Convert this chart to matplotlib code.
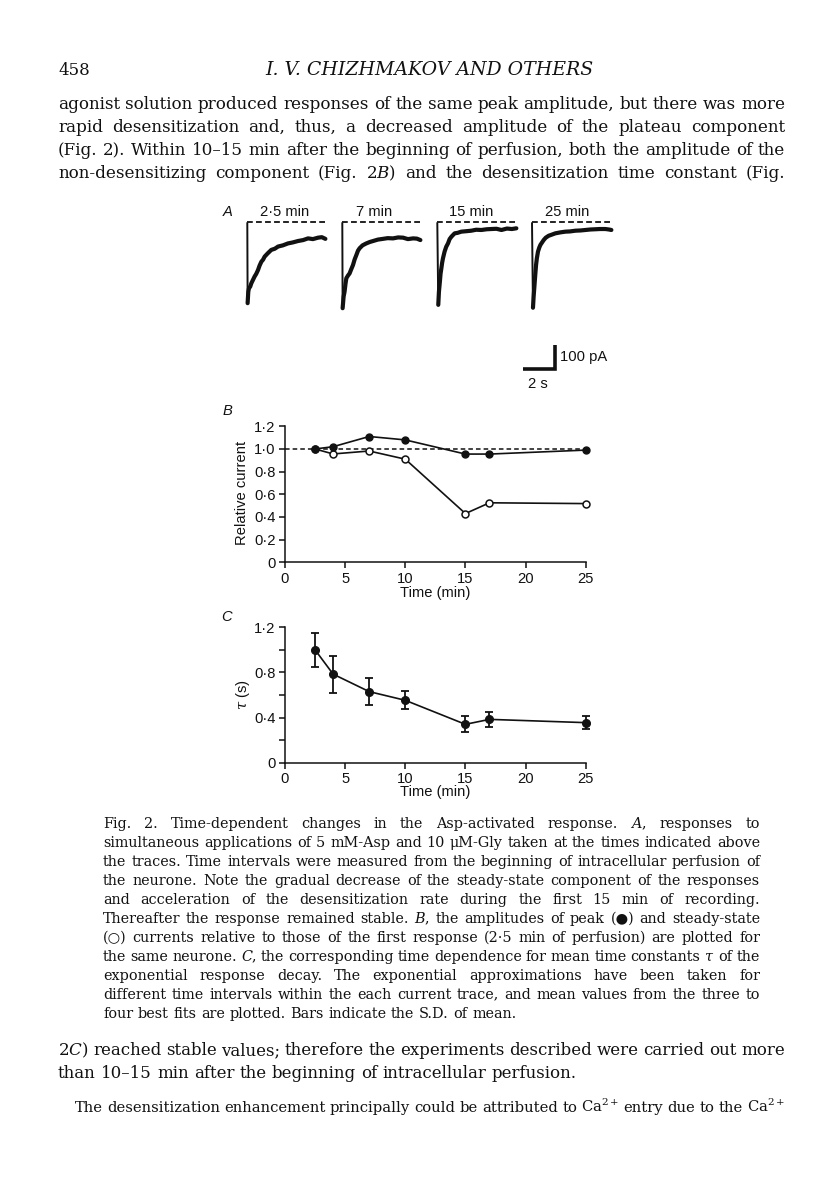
import matplotlib
matplotlib.use('Agg')
import matplotlib.pyplot as plt

# ------------------------------------------------------------------ data
time_min = [2.5, 4, 7, 10, 15, 17, 25]
peak_rel = [1.00, 1.02, 1.11, 1.08, 0.955, 0.955, 0.99]
steady_rel = [1.00, 0.956, 0.982, 0.91, 0.43, 0.525, 0.518]
tau_s = [1.00, 0.785, 0.63, 0.553, 0.34, 0.384, 0.355]
tau_sd = [0.15, 0.165, 0.12, 0.08, 0.07, 0.065, 0.055]

time_ticks = [0, 5, 10, 15, 20, 25]
time_ticklabels = ['0', '5', '10', '15', '20', '25']
rel_ticks = [0, 0.2, 0.4, 0.6, 0.8, 1.0, 1.2]
rel_ticklabels = ['0', '0·2', '0·4', '0·6', '0·8', '1·0', '1·2']
tau_ticks = [0, 0.4, 0.8, 1.2]
tau_ticklabels = ['0', '0·4', '0·8', '1·2']
tau_minor = [0.2, 0.6, 1.0]

trace_labels = ['2·5 min', '7 min', '15 min', '25 min']
# current traces (time in s from onset, current in pA)
trace1_t = [0, 0.02, 0.06, 0.10, 0.18, 0.25, 0.35, 0.45, 0.55, 0.66, 0.76, 0.87, 0.97, 1.07, 1.25,
            1.48, 1.70, 1.90, 2.20, 2.51, 2.80, 3.13, 3.45, 3.75, 4.05, 4.37, 4.60, 4.82]
trace1_i = [0, -337, -290, -275, -268, -254, -240, -226, -215, -199, -180, -164, -156, -143, -130,
            -115, -110, -101, -96, -88, -84, -78, -74, -67, -70, -64, -62, -69]
trace2_t = [0, 0.02, 0.08, 0.14, 0.20, 0.25, 0.35, 0.45, 0.55, 0.66, 0.76, 0.87, 0.97, 1.07, 1.25,
            1.48, 1.70, 1.90, 2.20, 2.51, 2.80, 3.13, 3.45, 3.75, 4.05, 4.37, 4.60, 4.82]
trace2_i = [0, -358, -310, -289, -255, -233, -222, -213, -196, -178, -155, -136, -118, -108, -96,
            -88, -82, -78, -72, -69, -66, -67, -63, -64, -70, -67, -68, -74]
trace3_t = [0, 0.06, 0.10, 0.16, 0.20, 0.25, 0.30, 0.35, 0.45, 0.55, 0.66, 0.76, 0.87, 1.07, 1.25,
            1.48, 1.80, 2.10, 2.40, 2.72, 3.05, 3.34, 3.65, 3.96, 4.30, 4.60, 4.88]
trace3_i = [0, -344, -290, -247, -215, -192, -168, -150, -122, -102, -88, -70, -60, -46, -44,
            -39, -37, -35, -31, -32, -29, -28, -27, -32, -26, -28, -25]
trace4_t = [0, 0.06, 0.10, 0.14, 0.20, 0.25, 0.30, 0.37, 0.45, 0.52, 0.62, 0.72, 0.85, 1.03, 1.20,
            1.44, 1.75, 2.06, 2.35, 2.68, 3.00, 3.30, 3.60, 3.91, 4.20, 4.53, 4.75, 4.90]
trace4_i = [0, -356, -310, -275, -220, -178, -150, -122, -105, -94, -84, -74, -64, -56, -52,
            -46, -42, -39, -38, -35, -34, -32, -30, -29, -28, -28, -30, -32]
baseline_len_s = 4.9
scale_time_s = 2
scale_current_pa = 100

header_page = '458'
header_title = 'I. V. CHIZHMAKOV AND OTHERS'
body1 = [
    'agonist solution produced responses of the same peak amplitude, but there was more',
    'rapid desensitization and, thus, a decreased amplitude of the plateau component',
    '(Fig. 2). Within 10–15 min after the beginning of perfusion, both the amplitude of the',
    r'non-desensitizing component (Fig. 2$\mathit{B}$) and the desensitization time constant (Fig.',
]
caption = [
    r'Fig. 2. Time-dependent changes in the Asp-activated response. $\mathit{A}$, responses to',
    'simultaneous applications of 5 mM-Asp and 10 μM-Gly taken at the times indicated above',
    'the traces. Time intervals were measured from the beginning of intracellular perfusion of',
    'the neurone. Note the gradual decrease of the steady-state component of the responses',
    'and acceleration of the desensitization rate during the first 15 min of recording.',
    r'Thereafter the response remained stable. $\mathit{B}$, the amplitudes of peak (●) and steady-state',
    '(○) currents relative to those of the first response (2·5 min of perfusion) are plotted for',
    r'the same neurone. $\mathit{C}$, the corresponding time dependence for mean time constants $\tau$ of the',
    'exponential response decay. The exponential approximations have been taken for',
    'different time intervals within the each current trace, and mean values from the three to',
    'four best fits are plotted. Bars indicate the S.D. of mean.',
]
body2 = [
    r'2$\mathit{C}$) reached stable values; therefore the experiments described were carried out more',
    'than 10–15 min after the beginning of intracellular perfusion.',
]
body3 = [
    r'The desensitization enhancement principally could be attributed to Ca$^{2+}$ entry due to the Ca$^{2+}$',
]

# ------------------------------------------------------------------ figure
W, H = 816, 1203
plt.rcParams['mathtext.fontset'] = 'dejavuserif'
fig = plt.figure(figsize=(W / 100, H / 100), dpi=100)
fig.patch.set_facecolor('white')

bg = fig.add_axes([0, 0, 1, 1], zorder=-1)
bg.set_xlim(0, W)
bg.set_ylim(H, 0)
bg.axis('off')
renderer = fig.canvas.get_renderer()

SERIF = ['DejaVu Serif', 'DejaVu Sans']
SANS = ['Liberation Sans', 'DejaVu Sans']
INK = '#111111'
SANS_SIZE = 10.6


def width_of(s, size, family=SERIF, style='normal'):
    t = bg.text(0, 0, s, fontsize=size, family=family, style=style)
    w = t.get_window_extent(renderer).width
    t.remove()
    return w


def paragraph(lines, x0, x1, y0, dy, size, justify, family=SERIF):
    target = x1 - x0
    for _ in range(4):
        sp = width_of('a a', size, family) - width_of('aa', size, family)
        worst = 1.0
        for ln, j in zip(lines, justify):
            if not j:
                continue
            words = ln.split(' ')
            nat = sum(width_of(w, size, family) for w in words) + sp * (len(words) - 1) * 0.85
            worst = min(worst, target / nat)
        if worst >= 1.0:
            break
        size *= worst * 0.998
    sp = width_of('a a', size, family) - width_of('aa', size, family)
    for k, (ln, j) in enumerate(zip(lines, justify)):
        words = ln.split(' ')
        ws = [width_of(w, size, family) for w in words]
        gap = (target - sum(ws)) / (len(words) - 1) if (j and len(words) > 1) else sp
        x = x0
        y = y0 + k * dy
        for w, wd in zip(words, ws):
            bg.text(x, y, w, fontsize=size, family=family, va='baseline', ha='left', color=INK)
            x += wd + gap


# header
bg.text(58, 75, header_page, fontsize=12, family=SERIF, va='baseline', ha='left', color=INK)
hs = 12 * 327 / width_of(header_title, 12, style='italic')
bg.text(265, 75, header_title, fontsize=hs, family=SERIF, style='italic',
        va='baseline', ha='left', color=INK)

paragraph(body1, 58, 785, 109, 23, 13.5, [True, True, True, True])
paragraph(caption, 103, 760, 828, 19, 11.0, [True] * 10 + [False])
paragraph(body2, 58, 785, 1055, 23, 13.5, [True, False])
paragraph(body3, 75, 785, 1112, 20, 11.5, [True])

# ------------------------------------------------------------------ panel A
PX_S = 16.2      # pixels per second
PX_PA = 0.24     # pixels per pA
trace_x0 = [247.3, 342.3, 437.3, 532.0]
trace_y0 = 222.3
traces = [(trace1_t, trace1_i), (trace2_t, trace2_i), (trace3_t, trace3_i), (trace4_t, trace4_i)]
label_cx = [285, 374, 471, 567]

XL = (-0.3, 5.3)
YL = (-400, 30)
for (tt, ii), x0, lab, cx in zip(traces, trace_x0, trace_labels, label_cx):
    left = x0 + XL[0] * PX_S
    right = x0 + XL[1] * PX_S
    top = trace_y0 - YL[1] * PX_PA
    bottom = trace_y0 - YL[0] * PX_PA
    ax = fig.add_axes([left / W, 1 - bottom / H, (right - left) / W, (bottom - top) / H])
    ax.set_xlim(*XL)
    ax.set_ylim(*YL)
    ax.axis('off')
    ax.plot([0, baseline_len_s], [0, 0], color=INK, lw=1.3, ls=(0, (3.2, 1.8)))
    ax.plot(tt[:2], ii[:2], color=INK, lw=1.4, solid_capstyle='butt')
    ax.plot(tt[1:], ii[1:], color=INK, lw=3.0, solid_joinstyle='round', solid_capstyle='round')
    bg.text(cx, 212, lab, fontsize=SANS_SIZE, family=SANS, ha='center', va='center', color=INK)

bg.text(228, 212, 'A', fontsize=SANS_SIZE, family=SANS, style='italic', ha='center', va='center', color=INK)

# scale bar
cx_px, cy_px = 555.0, 369.3
sl, sr = cx_px - 2.3 * PX_S, cx_px + 0.3 * PX_S
st, sb = cy_px - 115 * PX_PA, cy_px + 15 * PX_PA
axs = fig.add_axes([sl / W, 1 - sb / H, (sr - sl) / W, (sb - st) / H])
axs.set_xlim(-2.3, 0.3)
axs.set_ylim(-15, 115)
axs.axis('off')
axs.plot([-scale_time_s, 0, 0], [0, 0, scale_current_pa], color=INK, lw=2.6,
         solid_joinstyle='miter', solid_capstyle='butt')
bg.text(560, 357, f'{scale_current_pa} pA', fontsize=SANS_SIZE, family=SANS, ha='left', va='center', color=INK)
bg.text(538, 384, f'{scale_time_s} s', fontsize=SANS_SIZE, family=SANS, ha='center', va='center', color=INK)


# ------------------------------------------------------------------ panels B, C
def px_axes(left, top, right, bottom):
    return fig.add_axes([left / W, 1 - bottom / H, (right - left) / W, (bottom - top) / H])


def style_axes(ax):
    for s in ['top', 'right']:
        ax.spines[s].set_visible(False)
    for s in ['left', 'bottom']:
        ax.spines[s].set_linewidth(1.1)
        ax.spines[s].set_color(INK)
    ax.tick_params(which='both', direction='out', length=4.2, width=1.1, colors=INK,
                   labelsize=SANS_SIZE, pad=2.5)
    for lb in ax.get_xticklabels() + ax.get_yticklabels():
        lb.set_family(SANS)
    ax.patch.set_alpha(0)


axB = px_axes(285, 426.3, 585.7, 562.3)
axB.set_xlim(0, 25)
axB.set_ylim(0, 1.2)
axB.axhline(1.0, color=INK, lw=1.1, ls=(0, (3, 2)), zorder=1)
axB.plot(time_min, steady_rel, '-o', color=INK, mfc='white', mec=INK, ms=5, mew=1.1, lw=1.2,
         clip_on=False, zorder=3)
axB.plot(time_min, peak_rel, '-o', color=INK, ms=5, lw=1.2, clip_on=False, zorder=4)
axB.set_xticks(time_ticks)
axB.set_xticklabels(time_ticklabels)
axB.set_yticks(rel_ticks)
axB.set_yticklabels(rel_ticklabels)
style_axes(axB)
bg.text(242.5, 493, 'Relative current', rotation=90, fontsize=SANS_SIZE, family=SANS,
        ha='center', va='center', color=INK)
bg.text(435, 593, 'Time (min)', fontsize=SANS_SIZE, family=SANS, ha='center', va='center', color=INK)
bg.text(227, 411, 'B', fontsize=SANS_SIZE, family=SANS, style='italic', ha='center', va='center', color=INK)

axC = px_axes(285, 627.3, 585.7, 762.7)
axC.set_xlim(0, 25)
axC.set_ylim(0, 1.2)
axC.errorbar(time_min, tau_s, yerr=tau_sd, fmt='-o', color=INK, ms=5.5, lw=1.2,
             elinewidth=1.3, capsize=3, capthick=1.3, clip_on=False, zorder=3)
axC.set_xticks(time_ticks)
axC.set_xticklabels(time_ticklabels)
axC.set_yticks(tau_ticks)
axC.set_yticklabels(tau_ticklabels)
axC.set_yticks(tau_minor, minor=True)
style_axes(axC)
bg.text(243, 695, r'$\tau$ (s)', rotation=90, fontsize=SANS_SIZE, family=SANS,
        ha='center', va='center', color=INK)
bg.text(435, 792, 'Time (min)', fontsize=SANS_SIZE, family=SANS, ha='center', va='center', color=INK)
bg.text(226, 617, 'C', fontsize=SANS_SIZE, family=SANS, style='italic', ha='center', va='center', color=INK)

fig.savefig('out.png', dpi=100, facecolor='white')
